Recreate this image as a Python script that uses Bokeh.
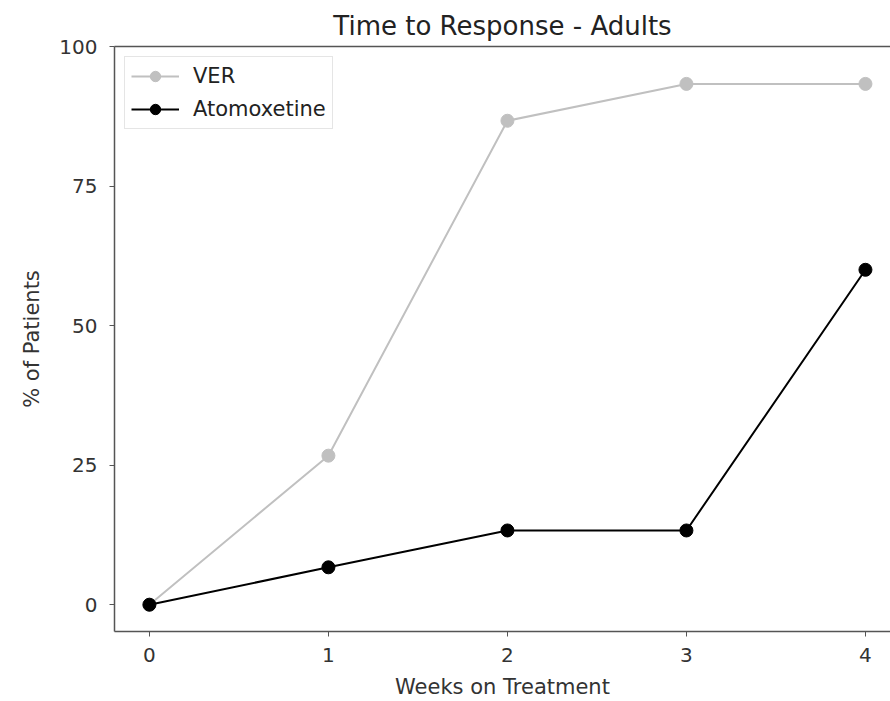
from bokeh.plotting import figure
from bokeh.models import FixedTicker, LinearAxis, Range1d, Legend
from bokeh.embed import file_html
from bokeh.resources import INLINE

weeks = [0, 1, 2, 3, 4]
ver = [0, 26.7, 86.7, 93.3, 93.3]
atomoxetine = [0, 6.7, 13.3, 13.3, 60]
x_ticks = [0, 1, 2, 3, 4]
y_ticks = [0, 25, 50, 75, 100]

FONT = "DejaVu Sans"

p = figure(width=890, height=701, output_backend="svg", toolbar_location=None,
           x_range=Range1d(-0.195, 4.14), y_range=Range1d(-4.8, 100),
           min_border_left=114, min_border_right=0, min_border_top=46, min_border_bottom=69)
p.outline_line_color = None
p.grid.visible = False
p.background_fill_color = "white"
p.border_fill_color = "white"

p.title.text = "Time to Response - Adults"
p.title.align = "center"
p.title.text_font = FONT
p.title.text_font_size = "26px"
p.title.text_font_style = "normal"
p.title.text_color = "#222222"
p.title.standoff = 12

r1 = p.line(weeks, ver, line_color="#c0c0c0", line_width=2)
s1 = p.scatter(weeks, ver, size=13, fill_color="#c0c0c0", line_color="#c0c0c0")
r2 = p.line(weeks, atomoxetine, line_color="black", line_width=2)
s2 = p.scatter(weeks, atomoxetine, size=13, fill_color="black", line_color="black")

legend = Legend(items=[("VER", [r1, s1]), ("Atomoxetine", [r2, s2])], location="top_left")
legend.margin = 10
legend.padding = 6
legend.spacing = 7
legend.glyph_width = 48
legend.glyph_height = 26
legend.label_height = 26
legend.label_standoff = 14
legend.label_text_font = FONT
legend.label_text_font_size = "21px"
legend.label_text_color = "#222222"
legend.border_line_color = "#cccccc"
legend.border_line_width = 1
legend.background_fill_alpha = 0.9
p.add_layout(legend)

for ax in (p.xaxis[0], p.yaxis[0]):
    ax.axis_line_color = "#555555"
    ax.axis_line_width = 1.5
    ax.major_tick_line_color = "#555555"
    ax.major_tick_out = 5
    ax.major_tick_in = 0
    ax.minor_tick_line_color = None
    ax.major_label_text_font = FONT
    ax.major_label_text_font_size = "20px"
    ax.major_label_text_color = "#333333"
    ax.axis_label_text_font = FONT
    ax.axis_label_text_font_size = "21px"
    ax.axis_label_text_font_style = "normal"
    ax.axis_label_text_color = "#333333"

p.xaxis[0].ticker = FixedTicker(ticks=x_ticks)
p.yaxis[0].ticker = FixedTicker(ticks=y_ticks)
p.xaxis[0].axis_label = "Weeks on Treatment"
p.yaxis[0].axis_label = "% of Patients"
p.xaxis[0].major_label_standoff = 11
p.yaxis[0].major_label_standoff = 12
p.xaxis[0].axis_label_standoff = 10
p.yaxis[0].axis_label_standoff = 12

top = LinearAxis(ticker=FixedTicker(ticks=[]))
top.axis_line_color = "#555555"
top.axis_line_width = 1.5
top.major_tick_line_color = None
top.minor_tick_line_color = None
top.major_label_text_font_size = "0px"
p.add_layout(top, "above")

open("out.html", "w").write(file_html(p, INLINE))
